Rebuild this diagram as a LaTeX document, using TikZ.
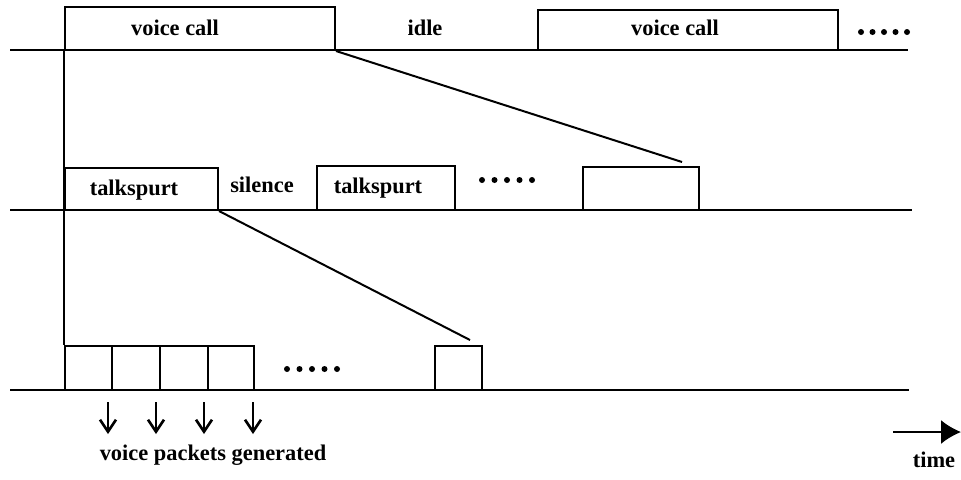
\documentclass[tikz,border=0pt]{standalone}
\usepackage{fontspec}
\setmainfont{Liberation Serif}
\usetikzlibrary{arrows.meta,fit}
\begin{document}
\begin{tikzpicture}[x=0.5pt,y=-0.5pt,
  every node/.style={font=\bfseries\fontsize{11.2}{13}\selectfont, inner sep=0pt},
  baseline/.style={line width=1pt},
  slot/.style={draw, line width=1pt, rectangle, inner sep=0pt, fit={#1}},
  link/.style={line width=1pt},
  gen/.style={line width=1.2pt, -{Straight Barb[length=6pt,width=8pt,line width=1.3pt]}},
  dotmark/.style={circle, fill, minimum size=3pt, inner sep=0pt}
]
\useasboundingbox (0,0) rectangle (961,479);

% time lines of the three levels
\coordinate (l1a) at (10,50);  \coordinate (l1b) at (908,50);
\coordinate (l2a) at (10,210); \coordinate (l2b) at (912,210);
\coordinate (l3a) at (10,390); \coordinate (l3b) at (909,390);
\draw[baseline] (l1a) -- (l1b);
\draw[baseline] (l2a) -- (l2b);
\draw[baseline] (l3a) -- (l3b);

% call level
\node[slot={(65,7) (335,50)}] (call1) {};
\node at (175,28) (call1t) {voice call};
\node at (425,28) (idle) {idle};
\node[slot={(538,10) (838,50)}] (call2) {};
\node at (675,28) (call2t) {voice call};
\foreach \k in {0,...,4} \node[dotmark] (da\k) at (861+11.5*\k,32) {};

% talkspurt level
\node[slot={(65,168) (218,210)}] (ts1) {};
\node at (134,190) (ts1t) {talkspurt};
\node at (262,185) (sil) {silence};
\node[slot={(317,166) (455,210)}] (ts2) {};
\node at (378,188) (ts2t) {talkspurt};
\foreach \k in {0,...,4} \node[dotmark] (db\k) at (482+12.5*\k,180) {};
\node[slot={(583,167) (699,210)}] (tsn) {};

% packet level
\node[slot={(65,346) (112,390)}] (p1) {};
\node[slot={(112,346) (160,390)}] (p2) {};
\node[slot={(160,346) (208,390)}] (p3) {};
\node[slot={(208,346) (254,390)}] (p4) {};
\foreach \k in {0,...,4} \node[dotmark] (dc\k) at (287+12.5*\k,369) {};
\node[slot={(435,346) (482,390)}] (pn) {};

% zoom connectors between levels
\coordinate (z1) at (682,162);
\coordinate (z2) at (470,340);
\draw[link] (call1.south west) -- (p1.north west);
\draw[link] (call1.south east) -- (z1);
\draw[link] (ts1.south east) -- (z2);

% packet generation marks
\foreach \i/\x in {1/108,2/156,3/204,4/253} {
  \coordinate (g\i a) at (\x,402);
  \coordinate (g\i b) at (\x,434);
  \draw[gen] (g\i a) -- (g\i b);
}
\node at (213,455) (gent) {voice packets generated};

% time axis
\coordinate (ta) at (893,432);
\coordinate (tb) at (961,432);
\draw[line width=1pt, -{Latex[length=10pt,width=12pt]}] (ta) -- (tb);
\node at (934,460) (time) {time};
\end{tikzpicture}
\end{document}
